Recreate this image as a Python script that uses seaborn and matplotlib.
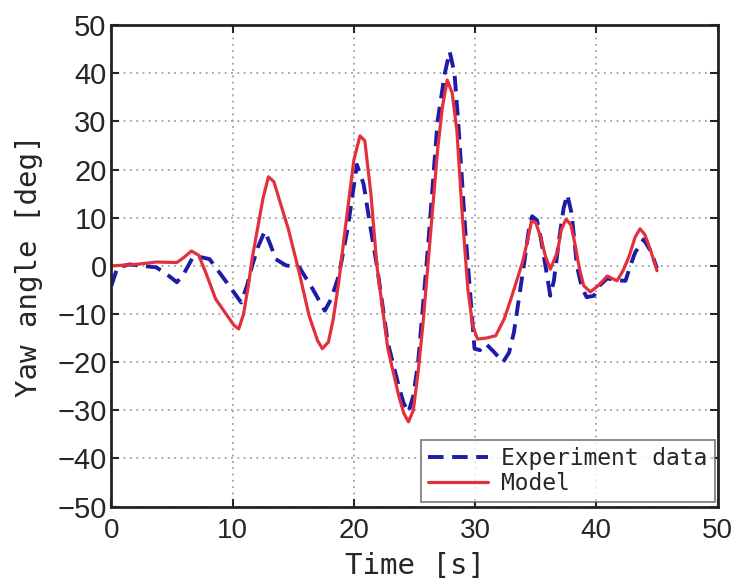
import matplotlib
matplotlib.use("Agg")
import matplotlib.pyplot as plt
import seaborn as sns
import pandas as pd

# values
t_model = [0, 2, 3.7, 5.4, 6.0, 6.6, 7.2, 7.8, 8.6, 9.6, 10.1, 10.5, 10.9, 11.3, 11.6,
           12.0, 12.5, 12.95, 13.4, 14.0, 14.6, 15.5, 16.3, 17.0, 17.4, 17.9, 18.3,
           18.75, 19.2, 19.6, 20.0, 20.5, 20.9, 21.4, 21.9, 22.8, 23.7, 24.1, 24.5,
           24.9, 25.3, 25.7, 26.1, 26.5, 26.9, 27.3, 27.7, 28.1, 28.5, 28.9, 29.4,
           29.8, 30.2, 30.9, 31.7, 32.4, 32.95, 33.5, 33.9, 34.3, 34.65, 35.0, 35.4,
           35.8, 36.2, 36.8, 37.1, 37.5, 37.9, 38.2, 38.6, 38.95, 39.5, 40.2, 40.9,
           41.7, 42.2, 42.7, 43.2, 43.6, 44.0, 44.5, 45.0]
yaw_model = [0, 0.3, 0.8, 0.7, 1.8, 3.1, 2.2, -1.5, -6.9, -10.5, -12.3, -13.1, -10, -4, 1.4,
             7, 14, 18.5, 17.5, 12.5, 7.6, -1.5, -10.3, -15.5, -17.2, -15.8, -11,
             -3.4, 6, 14, 22, 27, 26, 15, 0, -17.2, -27, -30.5, -32.4,
             -30, -22, -12, 0, 12, 24, 33, 38.6, 36, 28, 12, -4.8,
             -12.5, -15.2, -15, -14.5, -11, -6.9, -2.5, 0.7, 5, 9.3, 9, 6,
             2, -0.7, 3, 7.5, 9.7, 8.5, 5, -0.5, -4.1, -5.4, -4, -2.1,
             -3.1, -1, 2, 6, 7.7, 6.5, 3, -1.0]

t_exp = [0, 0.5, 1.5, 3.7, 4.6, 5.4, 6.0, 6.7, 7.4, 8.1, 9.5, 10.7, 11.2, 11.6, 12.1,
         12.65, 13.1, 13.55, 14.4, 15.5, 16.6, 17.6, 18.1, 18.75, 19.5, 19.9, 20.25,
         20.8, 21.3, 21.9, 22.8, 23.7, 24.1, 24.5, 24.9, 25.3, 26.1, 26.9, 27.5,
         27.9, 28.3, 28.6, 29.2, 29.95, 30.4, 30.9, 31.6, 32.3, 32.8, 33.2, 33.6,
         34.05, 34.4, 34.7, 35.1, 35.4, 35.8, 36.2, 36.5, 36.9, 37.3, 37.6, 37.95,
         38.4, 38.8, 39.2, 39.8, 40.3, 40.9, 41.7, 42.4, 42.8, 43.2, 43.9, 44.5, 45.0]
yaw_exp = [-4.1, -0.3, 0.3, -0.3, -1.8, -3.4, -1.5, 1.7, 1.8, 1.4, -3.4, -7.6, -4, 0, 4,
           7.2, 4.5, 1.4, 0.1, -0.3, -4.8, -9.3, -7, -2.1, 8, 15, 21.0,
           17, 9, 0, -16, -25, -28.5, -30.4, -27, -20, 3.5, 30, 40,
           44.5, 40, 30, 6.9, -17.2, -17.5, -16.2, -18, -20.0, -18, -13.8, -7,
           0.7, 7, 10.3, 9.5, 6, 0, -6.2, -3, 5, 12, 14.8, 11,
           0, -4.5, -6.5, -6.2, -4, -2.6, -3.0, -3.1, 0, 2.8, 5.5, 3, -0.5]

x_ticks = [0, 10, 20, 30, 40, 50]
y_ticks = [-50, -40, -30, -20, -10, 0, 10, 20, 30, 40, 50]

sns.set_style("ticks")
plt.rcParams['font.family'] = ['DejaVu Sans Mono', 'DejaVu Sans']

exp_df = pd.DataFrame({'t': t_exp, 'yaw': yaw_exp})
model_df = pd.DataFrame({'t': t_model, 'yaw': yaw_model})

fig, ax = plt.subplots(figsize=(7.33, 5.85), dpi=100)
fig.subplots_adjust(left=0.152, right=0.979, top=0.957, bottom=0.134)

sns.lineplot(data=exp_df, x='t', y='yaw', ax=ax, color='#1c1ca6', lw=2.8,
             label='Experiment data', sort=False)
ax.lines[-1].set_dashes((4, 2.2))
sns.lineplot(data=model_df, x='t', y='yaw', ax=ax, color='#e4303c', lw=2.3,
             label='Model', sort=False)

ax.set_xlim(0, 50)
ax.set_ylim(-50, 50)
ax.set_xticks(x_ticks)
ax.set_yticks(y_ticks)
ax.grid(True, color='#a0a0a0', ls=(0, (1, 2.5)), lw=1.3)
ax.tick_params(direction='in', length=6, width=1.5, top=True, right=True)
ax.tick_params(axis='x', pad=8)
for lab in ax.get_yticklabels():
    lab.set_fontfamily('Liberation Sans')
    lab.set_fontsize(21)
for lab in ax.get_xticklabels():
    lab.set_fontfamily('Liberation Sans')
    lab.set_fontsize(20)
for sp in ax.spines.values():
    sp.set_linewidth(2)
    sp.set_color('#222222')

ax.set_xlabel('Time [s]', fontsize=21, labelpad=6)
ax.set_ylabel('Yaw angle [deg]', fontsize=21, labelpad=10)

leg = ax.legend(loc='lower right', bbox_to_anchor=(0.995, 0.01), fontsize=16.5,
                frameon=True, fancybox=False, handlelength=2.6, labelspacing=0.1,
                borderpad=0.3, handletextpad=0.6, borderaxespad=0)
leg.get_frame().set_edgecolor('#555555')
leg.get_frame().set_linewidth(1.2)

fig.savefig('out.png', dpi=100)
